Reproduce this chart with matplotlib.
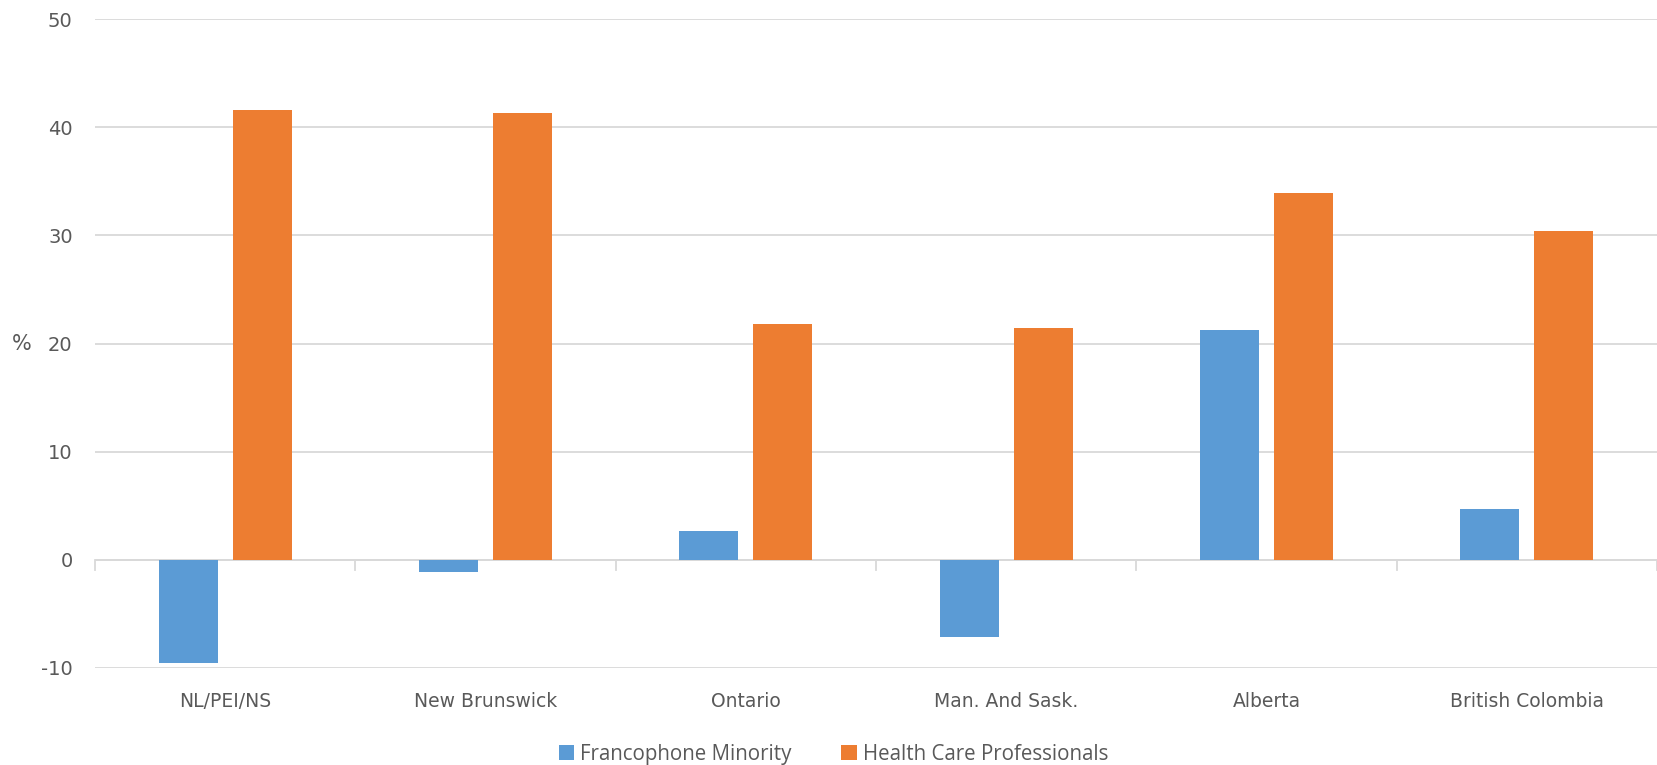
import numpy as np
import matplotlib.pyplot as plt

plt.rcParams['axes.unicode_minus'] = False

regions = ['NL/PEI/NS', 'New Brunswick', 'Ontario', 'Man. And Sask.', 'Alberta', 'British Colombia']
francophone = [-9.5, -1.1, 2.7, -7.1, 21.3, 4.7]
health_prof = [41.6, 41.3, 21.8, 21.4, 33.9, 30.4]

blue = '#5B9BD5'
orange = '#ED7D31'
grid_c = '#D9D9D9'
text_c = '#595959'

fig = plt.figure(figsize=(16.57, 7.65), dpi=100)
ax = fig.add_axes([0.0573, 0.1268, 0.9427, 0.8482])

x = np.arange(len(regions))
w = 0.227
off = 0.142
ax.bar(x - off, francophone, w, color=blue, label='Francophone Minority', zorder=3)
ax.bar(x + off, health_prof, w, color=orange, label='Health Care Professionals', zorder=3)

ax.set_xlim(-0.5, len(regions) - 0.5)
ax.set_ylim(-10, 50)
ax.set_yticks(np.arange(-10, 51, 10))
ax.yaxis.grid(True, color=grid_c, linewidth=1.3, zorder=0)
for s in ax.spines.values():
    s.set_visible(False)

# zero line with category separator ticks
ax.axhline(0, color=grid_c, linewidth=1.3, zorder=2)
for b in np.arange(-0.5, len(regions), 1.0):
    ax.plot([b, b], [0, -0.9], color=grid_c, linewidth=1.3, zorder=2, clip_on=False)

ax.set_xticks(x)
ax.set_xticklabels(regions)
ax.tick_params(axis='x', length=0, pad=17, labelsize=13.5, labelcolor=text_c)
ax.tick_params(axis='y', length=0, pad=16, labelsize=14, labelcolor=text_c)

ax.set_ylabel('%', rotation=0, fontsize=15, color=text_c, labelpad=14, va='center')

fig.legend(loc='lower center', bbox_to_anchor=(0.503, -0.024), ncol=2, frameon=False,
           prop={'family': 'Open Sans', 'size': 14.8}, labelcolor=text_c,
           handlelength=0.75, handleheight=0.75, handletextpad=0.3, columnspacing=2.4)

fig.savefig('out.png', dpi=100)
